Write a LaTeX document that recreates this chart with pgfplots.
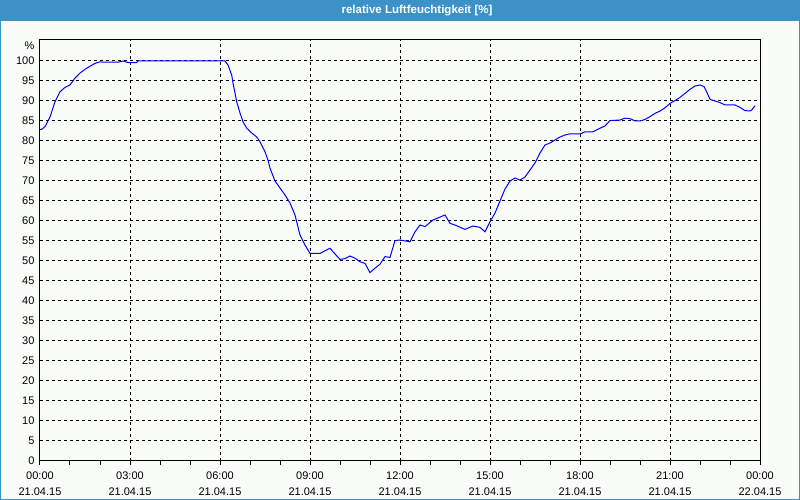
\documentclass[border=0pt]{standalone}
\usepackage{pgfplots}
\pgfplotsset{compat=1.18}
\usepackage{fontspec}
\setmainfont{Liberation Sans}
\definecolor{barblue}{HTML}{3C91C7}
\definecolor{bgc}{HTML}{FAFCFA}

\begin{document}
\begin{tikzpicture}
% background, title bar, frame (1pt = 1px)
\fill[bgc] (-40pt,-39pt) rectangle (760pt,461pt);
\fill[barblue] (-40pt,440pt) rectangle (760pt,461pt);
\fill[barblue] (-40pt,-39pt) rectangle (-39pt,440pt);
\fill[barblue] (759pt,-39pt) rectangle (760pt,440pt);
\fill[barblue] (-40pt,-39pt) rectangle (760pt,-38pt);
\useasboundingbox (-40pt,-39pt) rectangle (760pt,461pt);
\node[text=white, font=\fontsize{11.5}{13}\selectfont\bfseries] at (377pt,450.5pt) {relative Luftfeuchtigkeit [\%]};

\begin{axis}[
    scale only axis,
    width=720pt, height=421pt,
    xmin=0, xmax=24,
    ymin=0, ymax=105.25,
    xtick={0,3,...,24},
    minor xtick={1,2,4,5,7,8,10,11,13,14,16,17,19,20,22,23},
    xticklabels={{00:00\\21.04.15},{03:00\\21.04.15},{06:00\\21.04.15},{09:00\\21.04.15},{12:00\\21.04.15},{15:00\\21.04.15},{18:00\\21.04.15},{21:00\\21.04.15},{00:00\\22.04.15}},
    ytick={0,5,...,100},
    xtick pos=bottom, ytick pos=left,
    tick align=outside,
    major tick length=4pt, minor tick length=4pt,
    ytick style={draw=none},
    tick style={black, line width=1pt},
    minor tick style={black, line width=1pt},
    xmajorgrids, ymajorgrids,
    major grid style={black, line width=1pt, dash pattern=on 3pt off 3pt},
    axis line style={black, line width=1pt},
    tick label style={font=\fontsize{11}{16}\selectfont},
    xticklabel style={align=center, yshift=-3pt},
    yticklabel style={xshift=2pt},
    /pgf/number format/assume math mode=true,
    clip=false,
]
\addplot[blue, line width=1pt] coordinates {
 (0.000,82.9) (0.057,82.9) (0.167,83.6) (0.333,86.0) (0.5,89.8) (0.667,92.3)
 (0.833,93.4) (1.0,94.0) (1.167,95.7) (1.333,97.0) (1.557,98.2) (1.833,99.4)
 (2.0,99.8) (2.1,99.7) (2.6,99.7) (2.767,100.0) (2.933,99.6) (3.223,99.6)
 (3.267,100) (6.167,100) (6.267,99) (6.39,96.5) (6.433,94.5) (6.5,92)
 (6.557,89.8) (6.667,87) (6.767,84.8) (6.89,83.2) (7.057,82) (7.223,81)
 (7.333,79.8) (7.5,77.3) (7.6,75.2) (7.667,73.2) (7.833,70) (8.167,66.5)
 (8.333,64.5) (8.5,61.5) (8.6,58.5) (8.667,56.5) (8.833,54) (9.0,51.9)
 (9.333,51.9) (9.667,53.2) (9.767,52.3) (10.0,50.4) (10.167,50.6) (10.333,51.25)
 (10.5,50.7) (10.667,49.8) (10.833,49.4) (11.0,47.1) (11.167,48.2) (11.333,49.2)
 (11.5,51.1) (11.667,50.9) (11.833,55.1) (12.0,55.25) (12.333,54.8) (12.5,57.3)
 (12.667,59) (12.833,58.6) (13.1,60.25) (13.5,61.5) (13.667,59.4) (13.833,59)
 (14.167,57.9) (14.433,58.75) (14.667,58.4) (14.833,57.3) (15.0,59.8) (15.167,62)
 (15.333,65) (15.5,68) (15.667,70) (15.833,70.75) (16.0,70.25) (16.167,71)
 (16.333,72.75) (16.5,74.5) (16.667,77) (16.833,79) (17.0,79.5) (17.167,80.25)
 (17.333,81) (17.5,81.5) (17.667,81.8) (18.0,81.75) (18.167,82.3) (18.433,82.3)
 (18.667,83.2) (18.833,83.75) (19.0,85.1) (19.333,85.25) (19.5,85.7) (19.667,85.6)
 (19.833,85) (20.0,85) (20.167,85.4) (20.333,86.1) (20.5,86.9) (20.667,87.5)
 (20.833,88.3) (21.0,89.4) (21.167,90.1) (21.333,90.9) (21.5,91.9) (21.667,92.9)
 (21.833,93.75) (22.0,94) (22.133,93.6) (22.223,92.3) (22.333,90.4) (22.5,90)
 (22.667,89.6) (22.833,89) (23.167,89) (23.333,88.4) (23.5,87.6) (23.667,87.5)
 (23.723,87.75) (23.833,88.8)
};
\node[anchor=east, font=\fontsize{11}{13}\selectfont] at (axis cs:0,103.75) [xshift=-2pt] {\%};
\end{axis}
\end{tikzpicture}
\end{document}
